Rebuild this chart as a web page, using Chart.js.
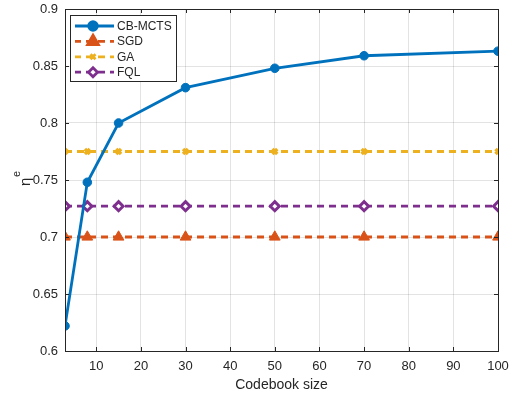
<!DOCTYPE html>
<html>
<head>
<meta charset="utf-8">
<script src="https://cdn.jsdelivr.net/npm/chart.js@4"></script>
<style>
  body { margin: 0; background: #fff; }
</style>
</head>
<body>
<canvas id="lineChart" width="521" height="394"></canvas>
<script>
const codebookSizes = [3, 8, 15, 30, 50, 70, 100];
const cbMcts = [0.622, 0.748, 0.800, 0.831, 0.848, 0.859, 0.863];
const sgd = [0.700, 0.700, 0.700, 0.700, 0.700, 0.700, 0.700];
const ga = [0.775, 0.775, 0.775, 0.775, 0.775, 0.775, 0.775];
const fql = [0.727, 0.727, 0.727, 0.727, 0.727, 0.727, 0.727];
const xTicks = [10, 20, 30, 40, 50, 60, 70, 80, 90, 100];
const yTicks = [0.6, 0.65, 0.7, 0.75, 0.8, 0.85, 0.9];

const axisColor = '#262626';
const fontFamily = '"Liberation Sans", Arial, Helvetica, sans-serif';

function toPoints(values) {
    return codebookSizes.map((x, i) => ({ x: x, y: values[i] }));
}

const datasets = [
    {
        label: 'CB-MCTS', data: toPoints(cbMcts),
        borderColor: '#0072BD', backgroundColor: '#0072BD',
        borderWidth: 2.8, pointStyle: 'circle', pointRadius: 4.3,
        pointBorderWidth: 1, order: 0
    },
    {
        label: 'SGD', data: toPoints(sgd),
        borderColor: '#D95319', backgroundColor: '#D95319',
        borderWidth: 2.8, borderDash: [7, 5], pointStyle: 'triangle', pointRadius: 6.2,
        pointBorderWidth: 1, order: 1
    },
    {
        label: 'GA', data: toPoints(ga),
        borderColor: '#EDB120', backgroundColor: '#EDB120',
        borderWidth: 2.8, borderDash: [7, 5], pointStyle: 'crossRot', pointRadius: 3.5,
        pointBorderWidth: 3.5, order: 2
    },
    {
        label: 'FQL', data: toPoints(fql),
        borderColor: '#7E2F8E', backgroundColor: '#ffffff',
        borderWidth: 2.8, borderDash: [7, 5], pointStyle: 'rectRot', pointRadius: 4.5,
        pointBorderWidth: 3, order: 3
    }
];

// box around the axes with inward tick marks, like matlab
const boxPlugin = {
    id: 'box',
    afterDatasetsDraw(chart) {
        const ctx = chart.ctx;
        const a = chart.chartArea;
        const xs = chart.scales.x, ys = chart.scales.y;
        ctx.save();
        ctx.strokeStyle = axisColor;
        ctx.lineWidth = 1;
        ctx.strokeRect(a.left + 0.5, a.top + 0.5, a.right - a.left, a.bottom - a.top);
        ctx.beginPath();
        xTicks.forEach(v => {
            const px = Math.round(xs.getPixelForValue(v)) + 0.5;
            ctx.moveTo(px, a.bottom); ctx.lineTo(px, a.bottom - 4);
            ctx.moveTo(px, a.top); ctx.lineTo(px, a.top + 4);
        });
        yTicks.forEach(v => {
            const py = Math.round(ys.getPixelForValue(v)) + 0.5;
            ctx.moveTo(a.left, py); ctx.lineTo(a.left + 4, py);
            ctx.moveTo(a.right, py); ctx.lineTo(a.right - 4, py);
        });
        ctx.stroke();
        ctx.restore();
    },
    afterDraw(chart) {
        // y axis title: eta with superscript e
        const ctx = chart.ctx;
        const a = chart.chartArea;
        const cy = (a.top + a.bottom) / 2;
        ctx.save();
        ctx.translate(30, cy);
        ctx.rotate(-Math.PI / 2);
        ctx.fillStyle = axisColor;
        ctx.textBaseline = 'alphabetic';
        ctx.textAlign = 'left';
        ctx.font = '15px ' + fontFamily;
        ctx.fillText('η', -6, 0);
        ctx.font = '11px ' + fontFamily;
        ctx.fillText('e', 3, -10);
        ctx.restore();
    }
};

// legend drawn inside the plot area, top-left
const legendPlugin = {
    id: 'boxLegend',
    afterDraw(chart) {
        const ctx = chart.ctx;
        const left = 70.5, top = 15.5, w = 106, h = 66;
        ctx.save();
        ctx.fillStyle = '#fff';
        ctx.fillRect(left, top, w, h);
        ctx.strokeStyle = axisColor;
        ctx.lineWidth = 1;
        ctx.strokeRect(left, top, w, h);
        chart.data.datasets.forEach((ds, i) => {
            const y = 26 + i * 15.4;
            ctx.save();
            ctx.strokeStyle = ds.borderColor;
            ctx.lineWidth = ds.borderWidth;
            ctx.setLineDash(ds.borderDash || []);
            ctx.lineDashOffset = ds.borderDash ? 1 : 0;
            ctx.beginPath();
            ctx.moveTo(75, y);
            ctx.lineTo(114, y);
            ctx.stroke();
            ctx.setLineDash([]);
            ctx.fillStyle = ds.backgroundColor;
            Chart.helpers.drawPoint(ctx, {
                pointStyle: ds.pointStyle,
                radius: ds.pointRadius,
                borderWidth: ds.pointBorderWidth,
                rotation: 0
            }, 93, y);
            ctx.restore();
            ctx.fillStyle = axisColor;
            ctx.font = '12px ' + fontFamily;
            ctx.textBaseline = 'middle';
            ctx.textAlign = 'left';
            ctx.fillText(ds.label, 117, y + 0.5);
        });
        ctx.restore();
    }
};

new Chart(document.getElementById('lineChart').getContext('2d'), {
    type: 'line',
    data: { datasets: datasets },
    options: {
        responsive: false,
        devicePixelRatio: 1,
        animation: false,
        layout: { padding: { left: 0, right: 23, top: 9, bottom: 0 } },
        plugins: {
            legend: { display: false },
            tooltip: { enabled: false }
        },
        scales: {
            x: {
                type: 'linear',
                min: 3, max: 100,
                afterBuildTicks: scale => { scale.ticks = xTicks.map(v => ({ value: v })); },
                afterFit: scale => { scale.height = 43; scale.paddingLeft = 0; scale.paddingRight = 0; },
                grid: { color: 'rgba(38,38,38,0.13)', drawTicks: false },
                border: { display: false },
                ticks: {
                    color: axisColor, padding: 8,
                    font: { family: fontFamily, size: 13 },
                    maxRotation: 0
                },
                title: {
                    display: true, text: 'Codebook size', color: axisColor,
                    font: { family: fontFamily, size: 14 },
                    padding: { top: 0, bottom: 0 }
                }
            },
            y: {
                min: 0.6, max: 0.9,
                afterBuildTicks: scale => { scale.ticks = yTicks.map(v => ({ value: v })); },
                afterFit: scale => { scale.width = 65; scale.paddingTop = 0; scale.paddingBottom = 0; },
                grid: { color: 'rgba(38,38,38,0.13)', drawTicks: false },
                border: { display: false },
                ticks: {
                    color: axisColor, padding: 7,
                    font: { family: fontFamily, size: 13 },
                    callback: v => String(Math.round(v * 100) / 100)
                }
            }
        }
    },
    plugins: [boxPlugin, legendPlugin]
});
</script>
</body>
</html>
